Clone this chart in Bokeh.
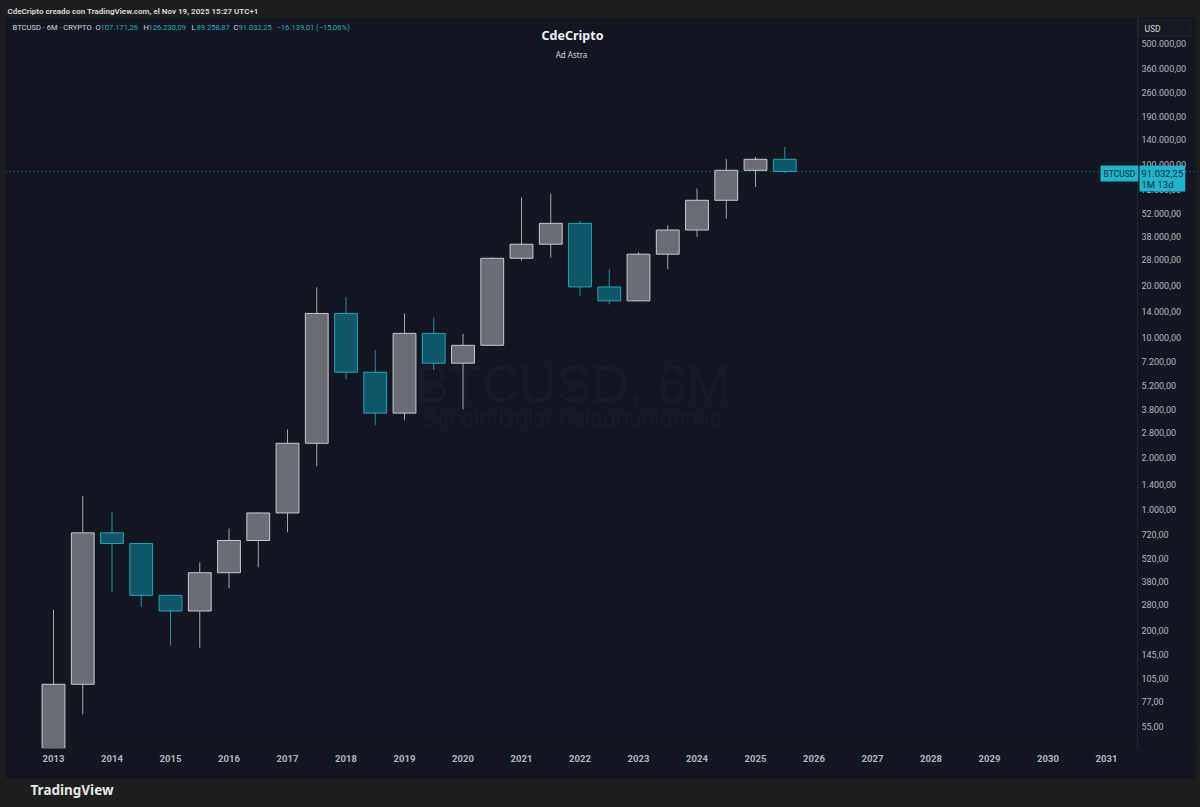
from bokeh.plotting import figure
from bokeh.models import (ColumnDataSource, FixedTicker, CustomJSTickFormatter, Label, Span,
                          BoxAnnotation, GlobalInlineStyleSheet, Range1d, Title)
from bokeh.embed import file_html
from bokeh.resources import INLINE

# ---------------- data (6M candles, BTCUSD) ----------------
candle_year = [2013, 2013, 2014, 2014, 2015, 2015, 2016, 2016, 2017, 2017, 2018, 2018, 2019,
               2019, 2020, 2020, 2021, 2021, 2022, 2022, 2023, 2023, 2024, 2024, 2025, 2025]
candle_half = [1, 2] * 13
opens = [13.5, 97, 732, 635, 318, 258, 430, 661, 955, 2420, 13700, 6250, 3620,
         10500, 7050, 8950, 28600, 34500, 45600, 19500, 16200, 30200, 41700, 62000, 92500, 107171.26]
highs = [262, 1200, 975, 645, 320, 493, 776, 965, 2910, 19400, 17000, 8400, 13700,
         12950, 10450, 29000, 64400, 67900, 47200, 24700, 31000, 44500, 72700, 107500, 110500, 126230.09]
lows = [13.2, 65, 335, 272, 163, 158, 349, 462, 738, 1780, 5680, 3080, 3290,
        6420, 3810, 8900, 27700, 28900, 17300, 15450, 16100, 24700, 38000, 48500, 74000, 89258.87]
closes = [97, 732, 635, 318, 258, 430, 661, 955, 2420, 13700, 6250, 3620, 10500,
          7050, 8950, 28600, 34500, 45600, 19500, 16200, 30200, 41700, 62000, 92500, 107171.26, 91032.25]

y_ticks = [55, 77, 105, 145, 200, 280, 380, 520, 720, 1000, 1400, 2000, 2800, 3800, 5200, 7200,
           10000, 14000, 20000, 28000, 38000, 52000, 72000, 100000, 140000, 190000, 260000,
           360000, 500000]
x_ticks = list(range(2013, 2032))

# ---------------- layout constants (page pixels) ----------------
W, H = 1200, 807
FR_L, FR_R, FR_T, FR_B = 5, 1196, 17, 748
SCALE_L = 1137          # left edge of the price scale strip
PX_YEAR = 58.5
X2013_PX = 53
Y1000_PX = 509
PX_DEC = 172.5


def xd(px):
    return 2013 + (px - X2013_PX) / PX_YEAR


def yd(py):
    return 10 ** (3 + (Y1000_PX - py) / PX_DEC)


def fmt(v):
    s = f"{abs(v):,.2f}".replace(",", "X").replace(".", ",").replace("X", ".")
    return ("\u2212" if v < 0 else "") + s


PANE = "#131722"
OUTER = "#1e1e1e"
TXT = "#d1d4dc"
AX_TXT = "#b2b5be"
TEAL = "#22abc0"
TAG = "#1cb5cc"
TAG_TXT = "#0d2a33"

BULL_FILL, BULL_LINE, BULL_WICK = "#6b6d76", "#c8cad0", "#a4a7af"
BEAR_FILL, BEAR_LINE, BEAR_WICK = "#0f5769", "#1ea5b9", "#1a93a6"

xs = [y + (0.0 if h == 1 else 0.5) for y, h in zip(candle_year, candle_half)]
bull = [c >= o for o, c in zip(opens, closes)]
src = ColumnDataSource(dict(
    x=xs, o=opens, h=highs, l=lows, c=closes,
    top=[max(o, c) for o, c in zip(opens, closes)],
    bot=[min(o, c) for o, c in zip(opens, closes)],
    fill=[BULL_FILL if b else BEAR_FILL for b in bull],
    line=[BULL_LINE if b else BEAR_LINE for b in bull],
    wick=[BULL_WICK if b else BEAR_WICK for b in bull],
))

p = figure(width=W, height=H, output_backend="svg", toolbar_location=None,
           y_axis_type="log", y_axis_location="right",
           x_range=Range1d(xd(FR_L), xd(FR_R)), y_range=Range1d(yd(FR_B), yd(FR_T)),
           min_border_left=FR_L, min_border_right=W - FR_R, min_border_top=FR_T,
           min_border_bottom=H - FR_B)
p.stylesheets = [GlobalInlineStyleSheet(css="html, body { background-color: #1e1e1e; }")]
p.background_fill_color = PANE
p.border_fill_color = OUTER
p.outline_line_color = None
p.xgrid.grid_line_color = None
p.ygrid.grid_line_color = None

# header line (title above the pane)
p.title.text = "CdeCripto creado con TradingView.com, el Nov 19, 2025 15:27 UTC+1"
p.title.align = "left"
p.title.offset = 2
p.title.standoff = 4
p.title.text_font = "Roboto"
p.title.text_font_size = "8px"
p.title.text_font_style = "bold"
p.title.text_color = TXT

# y axis: labels drawn inside the pane's price-scale strip
p.yaxis.ticker = FixedTicker(ticks=y_ticks)
p.yaxis.formatter = CustomJSTickFormatter(code="""
const s = Math.round(tick).toString();
const parts = [];
for (let i = s.length; i > 0; i -= 3) parts.unshift(s.substring(Math.max(0, i - 3), i));
return parts.join('.') + ',00';
""")
p.yaxis.major_tick_line_color = None
p.yaxis.minor_tick_line_color = None
p.yaxis.axis_line_color = None
p.yaxis.major_label_text_color = AX_TXT
p.yaxis.major_label_text_font = "Roboto"
p.yaxis.major_label_text_font_size = "9px"
p.yaxis.major_label_standoff = -61

# x axis
p.xaxis.ticker = FixedTicker(ticks=x_ticks)
p.xaxis.formatter = CustomJSTickFormatter(code="return tick.toFixed(0);")
p.xaxis.major_tick_line_color = None
p.xaxis.minor_tick_line_color = None
p.xaxis.axis_line_color = None
p.xaxis.major_label_text_color = AX_TXT
p.xaxis.major_label_text_font = "Roboto"
p.xaxis.major_label_text_font_style = "bold"
p.xaxis.major_label_text_font_size = "9.5px"
p.xaxis.major_label_standoff = 0
p.xaxis.axis_label = " "
p.xaxis.axis_label_text_font_size = "9.5px"
p.xaxis.axis_label_standoff = 0
try:
    p.xaxis[0].background_fill_color = PANE
except Exception:
    pass

# footer brand
p.add_layout(Title(text="TradingView", align="left", offset=25, standoff=0,
                   text_font="Noto Sans", text_font_size="13.5px", text_font_style="bold",
                   text_color="#e8e8e8"), "below")

# price-scale separator
p.add_layout(Span(location=xd(SCALE_L), dimension="height", line_color="#232733", line_width=1))

# watermark
p.add_layout(Label(x=xd(572), y=yd(383), text="BTCUSD, 6M", text_align="center",
                   text_baseline="alphabetic", text_font="Liberation Sans", text_font_size="52px",
                   text_color="#181c28", level="underlay"))
p.add_layout(Label(x=xd(572), y=yd(417), text="Bitcoin/Dólar estadounidense", text_align="center",
                   text_baseline="alphabetic", text_font="Liberation Sans", text_font_size="23px",
                   text_color="#181c28", level="underlay"))

# price line
p.add_layout(Span(location=closes[-1], dimension="width", line_color=TEAL, line_width=1,
                  line_dash="1 3", line_alpha=0.8, level="underlay"))

# candles
p.segment(x0="x", y0="l", x1="x", y1="h", source=src, line_color="wick", line_width=1)
p.vbar(x="x", top="top", bottom="bot", width=0.39, source=src, fill_color="fill",
       line_color="line", line_width=1)

# legend line
o, h, l, c = opens[-1], highs[-1], lows[-1], closes[-1]
chg = c - o
pct = chg / o * 100
legend_parts = [
    (12, "BTCUSD · 6M · CRYPTO", TXT),
    (95, "O", TXT), (100, fmt(o), TEAL),
    (143, "H", TXT), (148, fmt(h), TEAL),
    (191, "L", TXT), (196, fmt(l), TEAL),
    (233, "C", TXT), (238, fmt(c), TEAL),
    (276, f"{fmt(chg)} ({fmt(pct)}%)", TEAL),
]
for px, t, col in legend_parts:
    p.add_layout(Label(x=xd(px), y=yd(27), text=t, text_baseline="middle", text_font="Roboto",
                       text_font_size="7.6px", text_color=col))

# title
p.add_layout(Label(x=xd(572), y=yd(35), text="CdeCripto", text_align="center", text_baseline="middle",
                   text_font="Noto Sans", text_font_size="12.5px", text_font_style="bold",
                   text_color="#f0f3fa"))
p.add_layout(Label(x=xd(571), y=yd(53.5), text="Ad Astra", text_align="center", text_baseline="middle",
                   text_font="Noto Sans", text_font_size="8px", text_color=TXT))

# USD box
p.add_layout(BoxAnnotation(left=xd(1138), right=xd(1190), top=yd(20), bottom=yd(36),
                           fill_color="#171a22", fill_alpha=1, line_color="#3a3e4a", line_width=1))
p.add_layout(Label(x=xd(1144), y=yd(28), text="USD", text_baseline="middle", text_font="Roboto",
                   text_font_size="8.5px", text_color=TXT))

# last price tags
p.add_layout(Label(x=xd(1139), y=yd(165), text=f"{fmt(c)}\n1M 13d", text_baseline="top",
                   text_font="Roboto", text_font_size="9.5px", text_color=TAG_TXT,
                   background_fill_color=TAG, padding=2, text_line_height=1.0))
p.add_layout(Label(x=xd(1100), y=yd(173), text="BTCUSD", text_baseline="middle",
                   text_font="Roboto", text_font_size="8.5px", text_color=TAG_TXT,
                   background_fill_color=TAG, padding=3))

open("out.html", "w").write(file_html(p, INLINE))
